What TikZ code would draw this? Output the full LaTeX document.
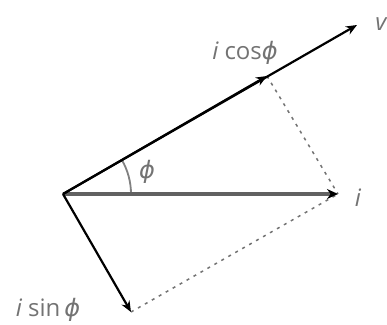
\documentclass[tikz,border=0pt]{standalone}
\usepackage{fontspec}
\setmainfont{Open Sans}
\newfontfamily\phifont{DejaVu Sans}
\usetikzlibrary{arrows.meta}
\definecolor{txtgray}{gray}{0.45}
\tikzset{
  vec/.style={line width=2.2pt, draw=black, -{Stealth[length=11pt,width=9pt]}},
  curvec/.style={line width=3.6pt, draw=black!62, -{Stealth[length=11pt,width=10pt,color=black]}},
  proj/.style={line width=1.5pt, draw=black!55, dash pattern=on 3pt off 5pt},
  lbl/.style={text=txtgray, font=\fontsize{24}{28}\selectfont, inner sep=0pt},
  anglearc/.style={line width=1.8pt, draw=black!50}
}
\newcommand{\myphi}{{\phifont\itshape ϕ}}
\begin{document}
\begin{tikzpicture}[x=1pt,y=-1pt]
\useasboundingbox (0,0) rectangle (387,324);
\coordinate (O) at (63,194);
\coordinate (V) at (357,25);
\coordinate (I) at (338,194);
\coordinate (IC) at (267,76);
\coordinate (IS) at (131,312);
\draw[anglearc] (O) ++(68,0) arc[start angle=0, end angle=-30, radius=68];
\draw[proj] (IC) -- (I);
\draw[proj] (IS) -- (I);
\draw[curvec] (O) -- (I);
\draw[vec] (O) -- (V);
\draw[vec] (O) -- (IS);
\draw[vec] (O) -- (IC);
\node[lbl] (vl) at (381,24) {\itshape v};
\node[lbl] (il) at (358,198) {\itshape i};
\node[lbl] (icl) at (245,53) {\itshape i\upshape\ cos\myphi};
\node[lbl] (isl) at (48,310) {\itshape i\upshape\ sin\,\myphi};
\node[lbl] (phil) at (147,172) {\myphi};
\end{tikzpicture}
\end{document}
